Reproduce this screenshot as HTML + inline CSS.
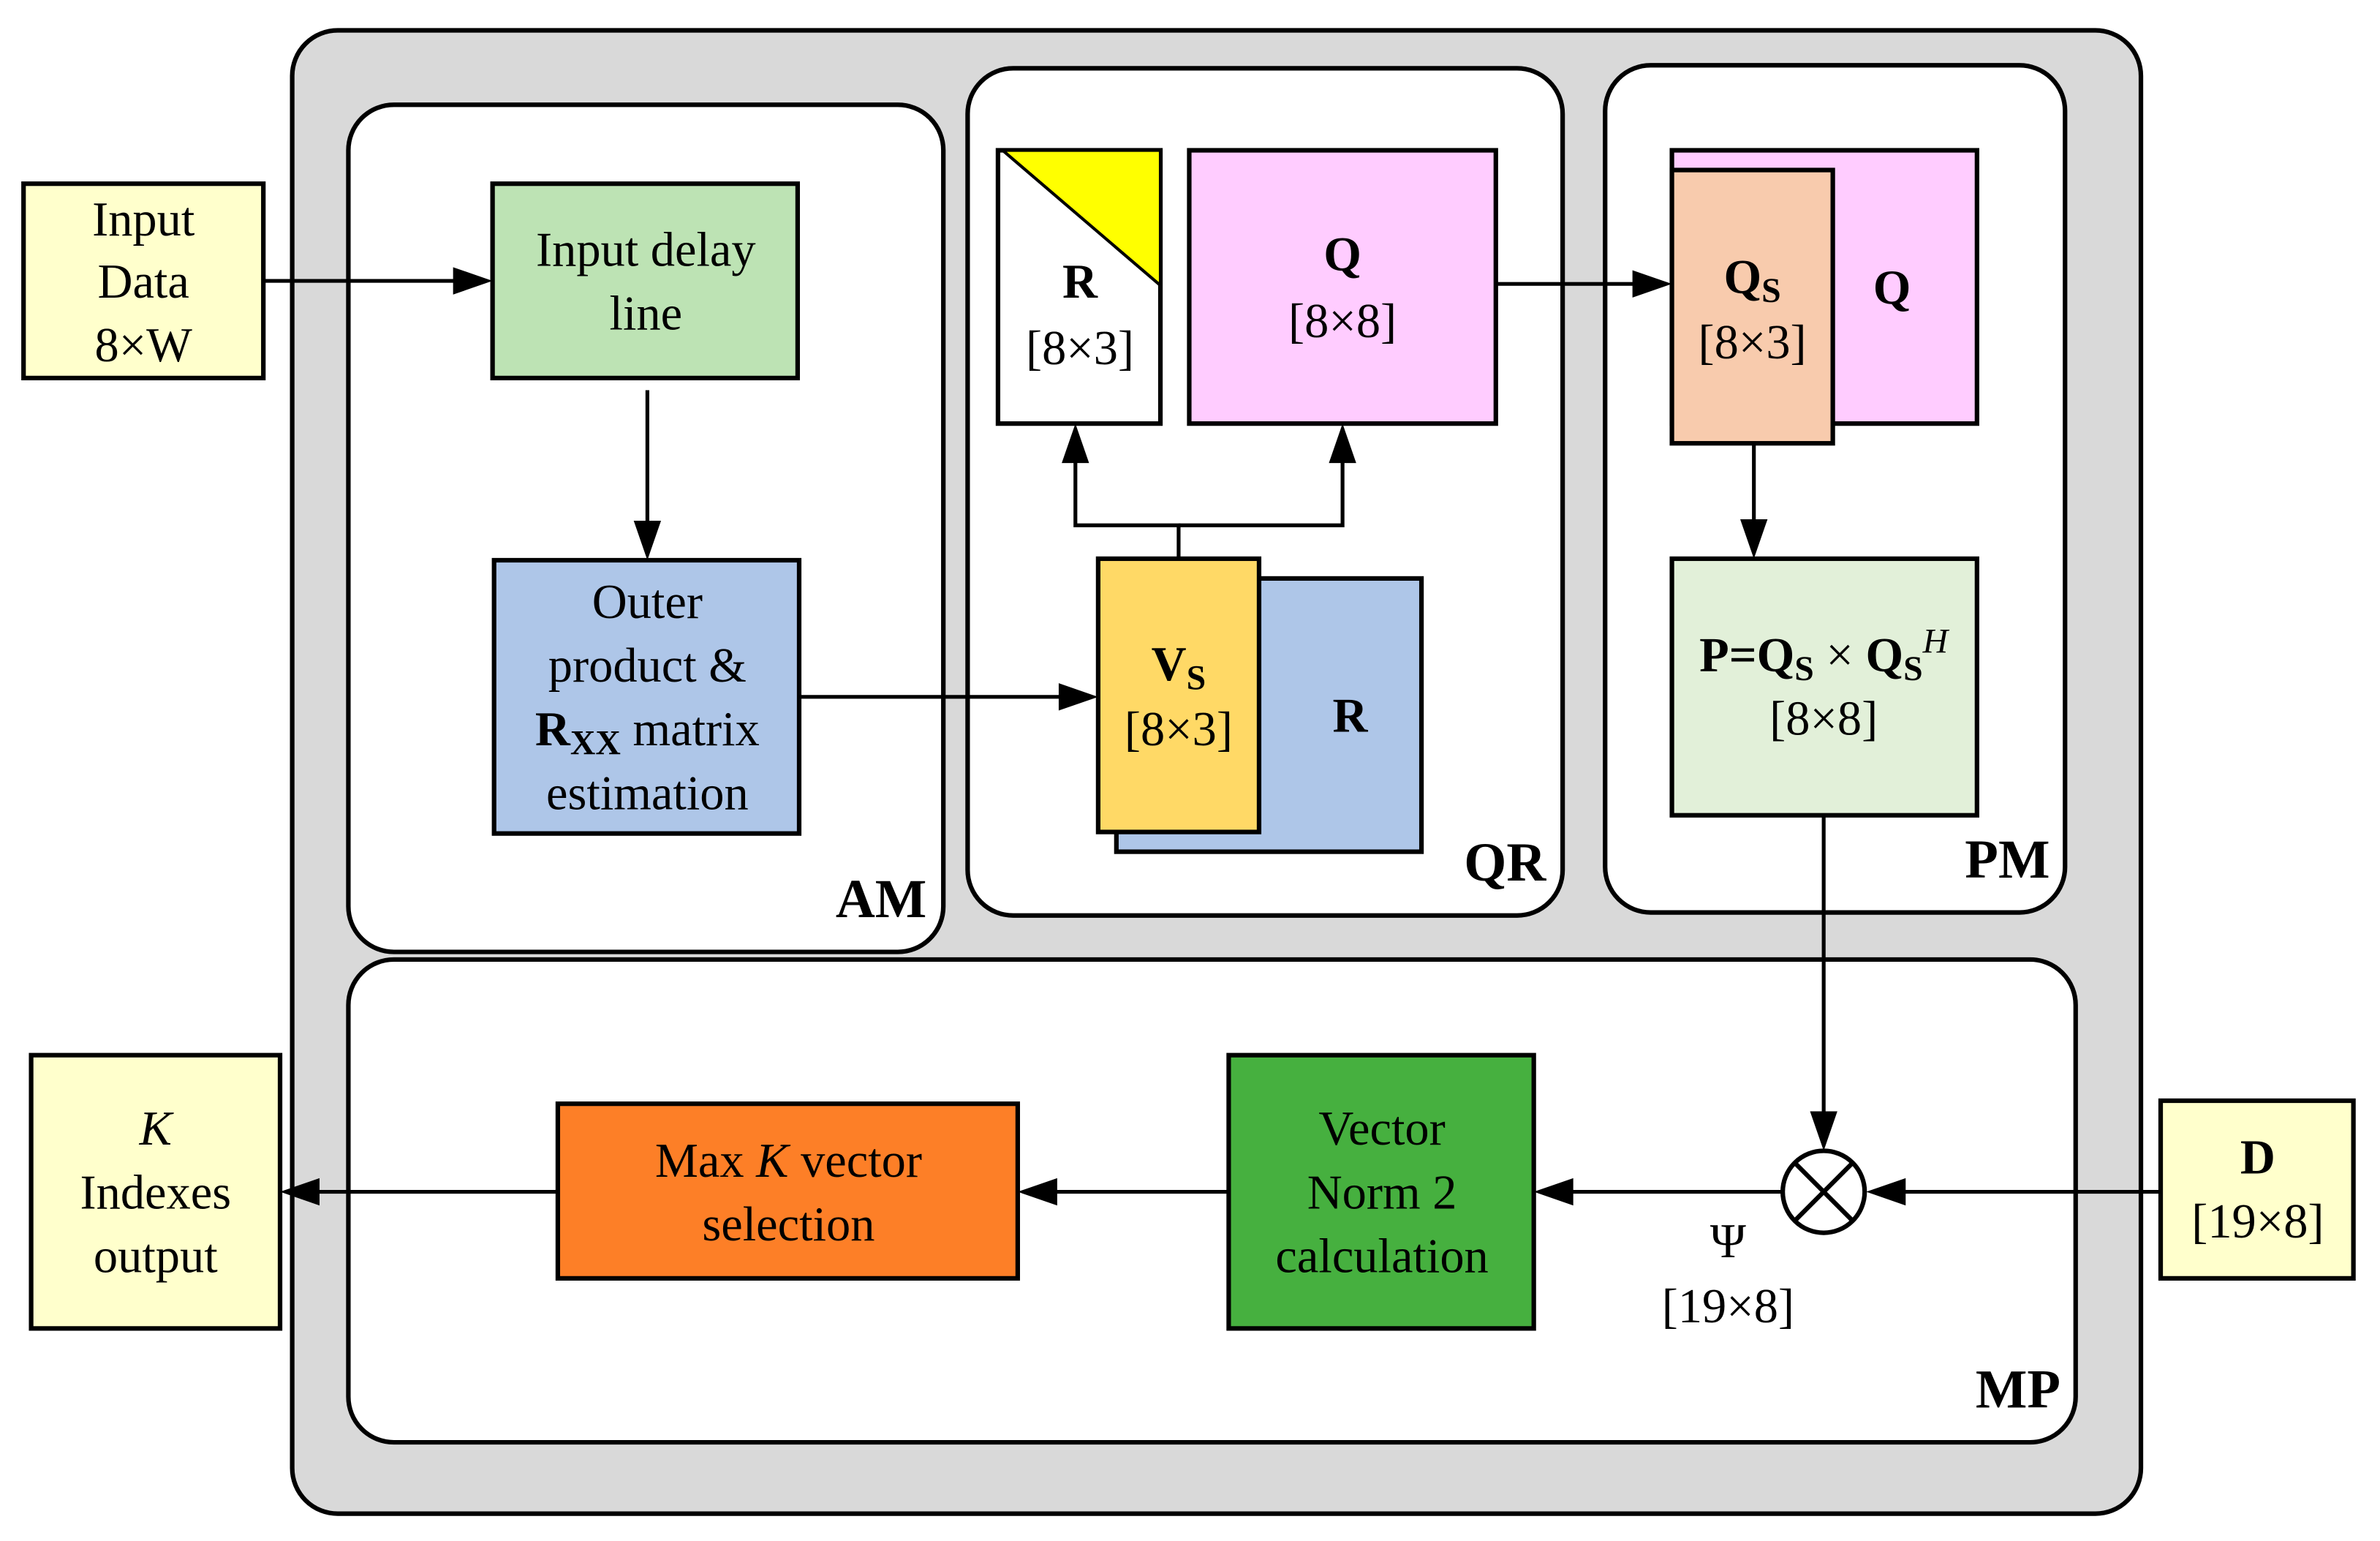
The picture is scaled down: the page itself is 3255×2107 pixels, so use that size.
<!DOCTYPE html>
<html><head><meta charset="utf-8"><style>
html,body{margin:0;padding:0;background:#fff}
svg{display:block}
text{font-family:"Liberation Serif",serif;fill:#000}
</style></head><body>
<svg width="3255" height="2107" viewBox="0 0 1567 1015" xmlns="http://www.w3.org/2000/svg">
<g stroke="#000" stroke-width="3">
<rect x="192" y="20" width="1218" height="977" rx="30" fill="#d9d9d9"/>
<rect x="229" y="69" width="392" height="558" rx="30" fill="#fff"/>
<rect x="637" y="45" width="392" height="558" rx="30" fill="#fff"/>
<rect x="1057" y="43" width="303" height="558" rx="30" fill="#fff"/>
<rect x="229" y="632" width="1138" height="318" rx="30" fill="#fff"/>
<rect x="15" y="121" width="158" height="128" fill="#ffffcc"/>
<rect x="324" y="121" width="201" height="128" fill="#bde3b4"/>
<rect x="325" y="369" width="201" height="180" fill="#aec6e8"/>
<rect x="657" y="99" width="107" height="180" fill="#fff"/>
<polygon points="660,99 764,99 764,188" fill="#ffff00" stroke-width="2"/>
<rect x="783" y="99" width="202" height="180" fill="#ffccff"/>
<rect x="735" y="381" width="201" height="180" fill="#aec6e8"/>
<rect x="723" y="368" width="106" height="180" fill="#ffd966"/>
<rect x="1101" y="99" width="201" height="180" fill="#ffccff"/>
<rect x="1101" y="112" width="106" height="180" fill="#f8cbad"/>
<rect x="1101" y="368" width="201" height="169" fill="#e2f0d9"/>
<rect x="20" y="695" width="164" height="180" fill="#ffffcc"/>
<rect x="367" y="727" width="303" height="115" fill="#fd7f27"/>
<rect x="809" y="695" width="201" height="180" fill="#46b03f"/>
<rect x="1423" y="725" width="127" height="117" fill="#ffffcc"/>
<circle cx="1201" cy="785" r="27" fill="#fff"/>
<line x1="1182" y1="766" x2="1220" y2="804"/>
<line x1="1220" y1="766" x2="1182" y2="804"/>
</g>
<g stroke="#000" stroke-width="2.5" fill="none">
<line x1="173" y1="185" x2="300" y2="185"/>
<line x1="426" y1="257" x2="426" y2="346"/>
<line x1="526" y1="459" x2="700" y2="459"/>
<polyline points="776,368 776,346 708,346 708,302"/>
<polyline points="776,346 884,346 884,302"/>
<line x1="985" y1="187" x2="1078" y2="187"/>
<line x1="1155" y1="292" x2="1155" y2="345"/>
<line x1="1201" y1="537" x2="1201" y2="735"/>
<line x1="1423" y1="785" x2="1252" y2="785"/>
<line x1="1174" y1="785" x2="1034" y2="785"/>
<line x1="809" y1="785" x2="694" y2="785"/>
<line x1="367" y1="785" x2="208" y2="785"/>
</g>
<g fill="#000">
<polygon points="324,185 298,176 298,194"/>
<polygon points="426,369 417,343 435,343"/>
<polygon points="723,459 697,450 697,468"/>
<polygon points="708,279 699,305 717,305"/>
<polygon points="884,279 875,305 893,305"/>
<polygon points="1101,187 1075,178 1075,196"/>
<polygon points="1155,368 1146,342 1164,342"/>
<polygon points="1201,758 1192,732 1210,732"/>
<polygon points="1229,785 1255,776 1255,794"/>
<polygon points="1010,785 1036,776 1036,794"/>
<polygon points="670,785 696,776 696,794"/>
<polygon points="184,785 210,776 210,794"/>
</g>
<g font-size="32" text-anchor="middle">
<text x="94" y="155">Input</text><text x="94" y="196">Data</text><text x="94" y="238">8×W</text>
<text x="425" y="175">Input delay</text><text x="425" y="217">line</text>
<text x="426" y="407">Outer</text><text x="426" y="449">product &amp;</text>
<text x="426" y="491"><tspan font-weight="bold">R</tspan><tspan font-weight="bold" font-size="23" dy="6">XX</tspan><tspan dy="-6"> matrix</tspan></text>
<text x="426" y="533">estimation</text>
<text x="711" y="196" font-weight="bold">R</text><text x="711" y="240">[8×3]</text>
<text x="884" y="178" font-weight="bold">Q</text><text x="884" y="222">[8×8]</text>
<text x="776" y="448" font-weight="bold">V<tspan font-size="23" dy="6">S</tspan></text><text x="776" y="491">[8×3]</text>
<text x="889" y="482" font-weight="bold">R</text>
<text x="1154" y="193" font-weight="bold">Q<tspan font-size="23" dy="6">S</tspan></text><text x="1154" y="236">[8×3]</text>
<text x="1246" y="200" font-weight="bold">Q</text>
<text x="1201" y="442"><tspan font-weight="bold">P=Q</tspan><tspan font-weight="bold" font-size="23" dy="6">S</tspan><tspan dy="-6"> × </tspan><tspan font-weight="bold">Q</tspan><tspan font-weight="bold" font-size="23" dy="6">S</tspan><tspan font-style="italic" font-size="23" dy="-18">H</tspan></text>
<text x="1201" y="484">[8×8]</text>
<text x="102" y="754" font-style="italic">K</text><text x="102" y="796">Indexes</text><text x="102" y="838">output</text>
<text x="519" y="775">Max <tspan font-style="italic">K</tspan> vector</text><text x="519" y="817">selection</text>
<text x="910" y="754">Vector</text><text x="910" y="796">Norm 2</text><text x="910" y="838">calculation</text>
<text x="1487" y="773" font-weight="bold">D</text><text x="1487" y="815">[19×8]</text>
<text x="1138" y="828">Ψ</text><text x="1138" y="871">[19×8]</text>
</g>
<g font-size="36" font-weight="bold" text-anchor="end">
<text x="610" y="604">AM</text>
<text x="1018" y="580">QR</text>
<text x="1350" y="578">PM</text>
<text x="1357" y="927">MP</text>
</g>
</svg>
</body></html>
